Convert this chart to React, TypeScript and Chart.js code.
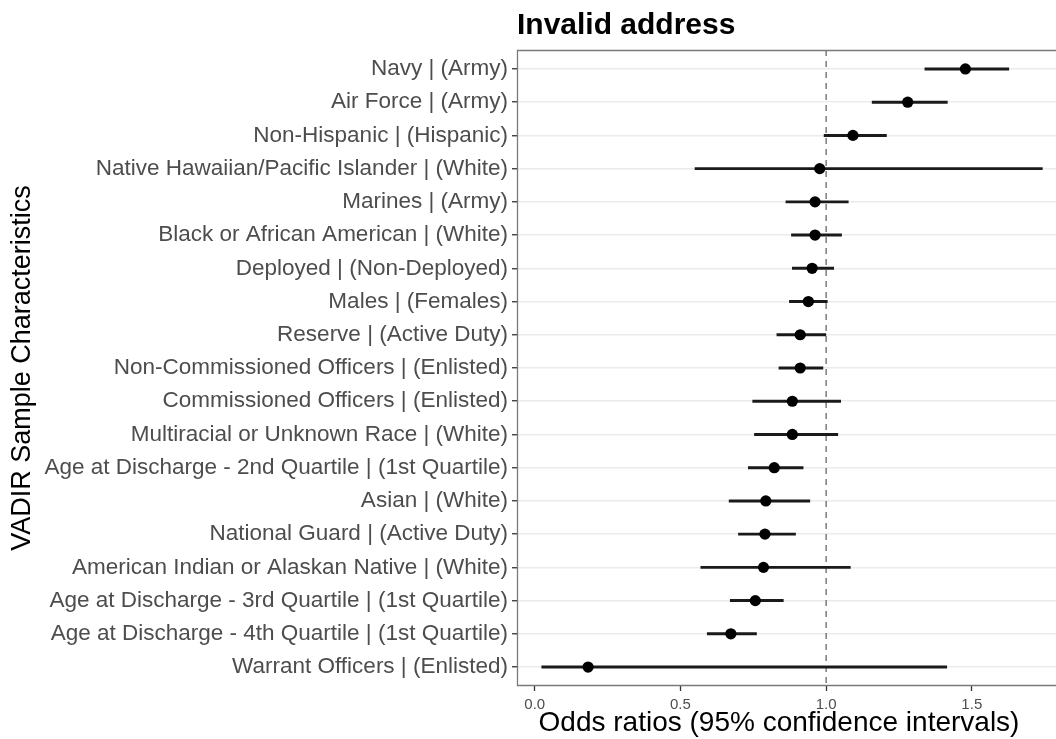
import React, { useEffect, useRef } from 'react';
import { Chart, registerables } from 'chart.js';

Chart.register(...registerables);

const chartTitle = 'Invalid address';
const yAxisTitle = 'VADIR Sample Characteristics';
const xAxisTitle = 'Odds ratios (95% confidence intervals)';

const categories = [
  'Navy | (Army)',
  'Air Force | (Army)',
  'Non-Hispanic | (Hispanic)',
  'Native Hawaiian/Pacific Islander | (White)',
  'Marines | (Army)',
  'Black or African American | (White)',
  'Deployed | (Non-Deployed)',
  'Males | (Females)',
  'Reserve | (Active Duty)',
  'Non-Commissioned Officers | (Enlisted)',
  'Commissioned Officers | (Enlisted)',
  'Multiracial or Unknown Race | (White)',
  'Age at Discharge - 2nd Quartile | (1st Quartile)',
  'Asian | (White)',
  'National Guard | (Active Duty)',
  'American Indian or Alaskan Native | (White)',
  'Age at Discharge - 3rd Quartile | (1st Quartile)',
  'Age at Discharge - 4th Quartile | (1st Quartile)',
  'Warrant Officers | (Enlisted)',
];

const oddsRatios = [
  1.478, 1.28, 1.092, 0.978, 0.962, 0.962, 0.952, 0.939, 0.911, 0.911,
  0.884, 0.884, 0.822, 0.793, 0.79, 0.785, 0.757, 0.673, 0.183,
];

const ciLower = [
  1.339, 1.158, 0.993, 0.55, 0.862, 0.881, 0.884, 0.874, 0.831, 0.838,
  0.748, 0.754, 0.733, 0.667, 0.699, 0.57, 0.671, 0.592, 0.024,
];

const ciUpper = [
  1.627, 1.416, 1.207, 1.742, 1.076, 1.053, 1.026, 1.004, 0.999, 0.989,
  1.05, 1.04, 0.921, 0.944, 0.895, 1.083, 0.853, 0.761, 1.414,
];

const xTickValues = [0, 0.5, 1, 1.5];
const referenceValue = 1;

const FONT = '"Liberation Sans", Arial, Helvetica, sans-serif';

export default function App() {
  const canvasRef = useRef<HTMLCanvasElement | null>(null);

  useEffect(() => {
    const canvas = canvasRef.current;
    if (!canvas) return;
    Chart.defaults.font.family = FONT;

    const n = categories.length;
    const yMin = -0.57;
    const yMax = n - 1 + 0.57;

    const panelPlugin = {
      id: 'panelDecor',
      afterDraw(chart: any) {
        const { ctx, chartArea } = chart;
        const l = chartArea.left + 0.5;
        const t = chartArea.top + 0.5;
        const b = chartArea.bottom - 0.5;
        const r = chartArea.right;
        ctx.save();
        ctx.strokeStyle = '#7a7a7a';
        ctx.lineWidth = 1.3;
        ctx.beginPath();
        ctx.moveTo(r, t);
        ctx.lineTo(l, t);
        ctx.lineTo(l, b);
        ctx.lineTo(r, b);
        ctx.stroke();
        // main title, left-aligned with the panel
        ctx.font = `bold 30px ${FONT}`;
        ctx.fillStyle = '#000';
        ctx.textAlign = 'left';
        ctx.textBaseline = 'alphabetic';
        ctx.fillText(chartTitle, chartArea.left, 34);
        // x axis title
        ctx.font = `28px ${FONT}`;
        ctx.textAlign = 'center';
        ctx.fillText(xAxisTitle, chartArea.left + 262, 731);
        ctx.restore();
      },
    };

    const chart = new Chart(canvas, {
      type: 'bar',
      data: {
        datasets: [
          {
            type: 'scatter',
            label: 'Odds ratio',
            data: categories.map((_, i) => ({ x: oddsRatios[i], y: i })),
            pointRadius: 5.6,
            pointHoverRadius: 5.6,
            backgroundColor: '#000',
            borderColor: '#000',
            borderWidth: 0,
            order: 0,
          } as any,
          {
            type: 'bar',
            label: '95% CI',
            data: categories.map((_, i) => ({ y: i, x: [ciLower[i], ciUpper[i]] })),
            backgroundColor: '#1a1a1a',
            borderWidth: 0,
            barThickness: 2.3,
            order: 1,
          } as any,
          {
            type: 'line',
            label: 'Reference',
            data: [
              { x: referenceValue, y: yMin },
              { x: referenceValue, y: yMax },
            ],
            borderColor: '#666',
            borderWidth: 1.3,
            borderDash: [6, 5],
            pointRadius: 0,
            fill: false,
            order: 2,
          } as any,
        ],
      },
      options: {
        indexAxis: 'y',
        responsive: false,
        animation: false,
        devicePixelRatio: 1,
        layout: { autoPadding: false, padding: { top: 50, right: 0, bottom: 0, left: 0 } },
        plugins: {
          legend: { display: false },
          tooltip: { enabled: false },
          title: { display: false },
        },
        scales: {
          x: {
            type: 'linear',
            position: 'bottom',
            min: -0.061,
            max: 1.789,
            offset: false,
            afterBuildTicks: (scale: any) => {
              scale.ticks = xTickValues.map((v) => ({ value: v }));
            },
            afterFit: (scale: any) => {
              scale.height = 53;
            },
            ticks: {
              callback: (v: any) => Number(v).toFixed(1),
              font: { size: 15 },
              color: '#4d4d4d',
              padding: 5,
              autoSkip: false,
              maxRotation: 0,
            },
            grid: {
              offset: false,
              drawOnChartArea: false,
              drawTicks: true,
              tickLength: 5,
              tickColor: '#333',
              tickWidth: 1.3,
            },
            border: { display: false },
            title: { display: false },
          },
          y: {
            type: 'linear',
            position: 'left',
            reverse: true,
            min: yMin,
            max: yMax,
            offset: false,
            afterFit: (scale: any) => {
              scale.width = 517;
            },
            ticks: {
              stepSize: 1,
              includeBounds: false,
              autoSkip: false,
              callback: (v: any) => {
                const k = Number(v);
                return Number.isInteger(k) && k >= 0 && k < n ? categories[k] : '';
              },
              font: { size: 22.5 },
              color: '#4d4d4d',
              padding: 4,
            },
            grid: {
              offset: false,
              drawOnChartArea: true,
              color: '#ebebeb',
              lineWidth: 1.5,
              drawTicks: true,
              tickLength: 5,
              tickColor: '#333',
              tickWidth: 1.3,
            },
            border: { display: false },
            title: {
              display: true,
              text: yAxisTitle,
              font: { size: 27, lineHeight: 1 },
              color: '#000',
              padding: { top: 9, bottom: 0 },
            },
          },
        },
      } as any,
      plugins: [panelPlugin],
    });

    return () => {
      chart.destroy();
    };
  }, []);

  return (
    <div style={{ position: 'fixed', left: 0, top: 0, width: 1056, height: 739, background: '#fff' }}>
      <canvas ref={canvasRef} width={1056} height={739} style={{ width: 1056, height: 739, display: 'block' }} />
    </div>
  );
}
